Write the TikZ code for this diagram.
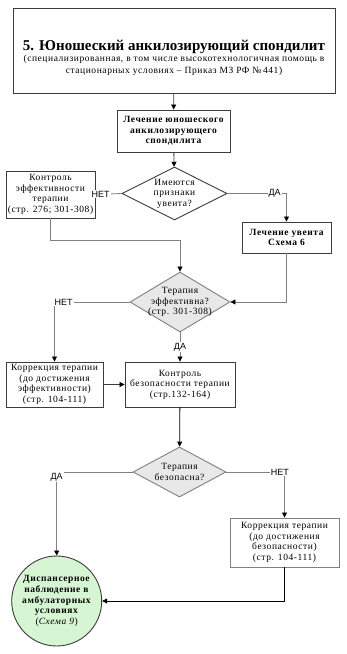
\documentclass[tikz,border=0pt]{standalone}
\usepackage{fontspec}
\setmainfont{Liberation Serif}[LetterSpace=6]
\newfontfamily\titlefont{Liberation Serif}
\newfontfamily\yesnofont{Liberation Sans}
\usetikzlibrary{arrows.meta,shapes.geometric}
\definecolor{linegray}{RGB}{128,128,128}
\definecolor{boxdark}{RGB}{60,60,60}
\definecolor{qfill}{RGB}{232,232,232}
\definecolor{okgreen}{RGB}{214,245,210}

\begin{document}
\begin{tikzpicture}[
    x=1pt, y=-1pt,
    box/.style={rectangle, draw=boxdark, line width=0.9pt, align=center, inner sep=0pt,
        font=\fontsize{9.5}{10.5}\selectfont},
    greybox/.style={box, draw=linegray},
    question/.style={diamond, draw=linegray, fill=qfill, line width=0.9pt, inner sep=0pt},
    qtext/.style={align=center, inner sep=0pt, font=\fontsize{9.5}{10.5}\selectfont},
    finish/.style={circle, draw=boxdark, fill=okgreen, line width=0.9pt, inner sep=0pt,
        align=center, font=\fontsize{9.5}{10.8}\selectfont},
    answer/.style={fill=white, inner sep=1pt, font=\yesnofont\fontsize{9}{10}\selectfont},
    line/.style={draw=linegray, line width=0.8pt},
    >={Triangle[length=5pt, width=5pt, color=black]}
]
    \useasboundingbox (0,0) rectangle (346,654);

    % 节点定义 (方框)
    \node[box, minimum width=322, minimum height=85,
        label={[yshift=-7pt, align=center]center:{\titlefont\fontsize{15}{17}\selectfont\bfseries 5. Юношеский анкилозирующий спондилит}\\[-1pt]
        {\fontsize{9.5}{11}\selectfont (специализированная, в том числе высокотехнологичная помощь в}\\
        {\fontsize{9.5}{11}\selectfont стационарных условиях -- Приказ МЗ РФ №\,441)}}] (head) at (174,50.5) {}; % 标题
    \node[box, minimum width=113, minimum height=42, font=\fontsize{9.5}{10.5}\selectfont\bfseries]
        (treat) at (173.5,131) {Лечение юношеского\\анкилозирующего\\спондилита}; % 治疗
    \node[box, minimum width=89, minimum height=47]
        (effctl) at (50.5,194.5) {Контроль\\эффективности\\терапии\\(стр. 276; 301-308)}; % 左上
    \node[box, minimum width=89, minimum height=31, font=\fontsize{9.5}{10.5}\selectfont\bfseries]
        (uveit) at (286.5,237.5) {Лечение увеита\\Схема 6}; % 右侧
    \node[box, minimum width=97, minimum height=45]
        (corr1) at (54.5,384.5) {Коррекция терапии\\(до достижения\\эффективности)\\(стр. 104-111)}; % 左下
    \node[box, minimum width=110, minimum height=45]
        (safectl) at (180,384.5) {Контроль\\безопасности терапии\\(стр.132-164)}; % 中间
    \node[greybox, minimum width=109, minimum height=49]
        (corr2) at (284.5,542.5) {Коррекция терапии\\(до достижения\\безопасности)\\(стр. 104-111)}; % 右下

    % 菱形 (判断)
    \node[question, draw=boxdark, fill=white, minimum width=105, minimum height=53,
        label={[qtext]center:Имеются\\признаки\\увеита?}] (q1) at (174.5,193.5) {};
    \node[question, minimum width=100, minimum height=60,
        label={[qtext]center:Терапия\\эффективна?\\(стр. 301-308)}] (q2) at (180,302) {};
    \node[question, minimum width=93, minimum height=50,
        label={[qtext]center:Терапия\\безопасна?}] (q3) at (179.5,472) {};

    % 圆 (结束)
    \node[finish, minimum size=90] (finish) at (56.7,601)
        {\textbf{Диспансерное}\\\textbf{наблюдение в}\\\textbf{амбулаторных}\\\textbf{условиях}\\(\textit{Схема 9})};

    \coordinate (join) at (180,240); % 汇合点

    % 1. 标题 -> 治疗 -> 第一个判断
    \draw[->, line width=0.8pt, draw=boxdark] (head) -- (treat);
    \draw[->, line width=0.8pt, draw=boxdark] (treat) -- (q1);

    % 2. 第一个判断的两个分支
    \draw[->, line] (q1.west) -- node[answer, pos=0.8] {НЕТ} (effctl.east);
    \draw[->, line] (q1.east) -| node[answer, pos=0.4] {ДА} (uveit.north);

    % 3. 进入第二个判断
    \draw[->, line] (effctl.south) |- (join) -- (q2.north);
    \draw[->, line] (uveit.south) |- (q2.east);

    % 4. 第二个判断的两个分支
    \draw[->, line] (q2.west) -| node[answer, pos=0.44] {НЕТ} (corr1.north);
    \draw[->, line] (q2.south) -- node[answer, pos=0.5] {ДА} (safectl.north);
    \draw[->, line width=0.8pt, draw=boxdark] (corr1.east) -- (safectl.west);

    % 5. 第三个判断
    \draw[->, line width=0.8pt, draw=black] (safectl) -- (q3);
    \draw[->, line] (q3.west) -| node[answer, pos=0.53] {ДА} (finish.north);
    \draw[->, line] (q3.east) -| node[answer, pos=0.46] {НЕТ} (corr2.north);
    \draw[->, line width=0.8pt, draw=black] (corr2.south) |- (finish.east);

\end{tikzpicture}
\end{document}
